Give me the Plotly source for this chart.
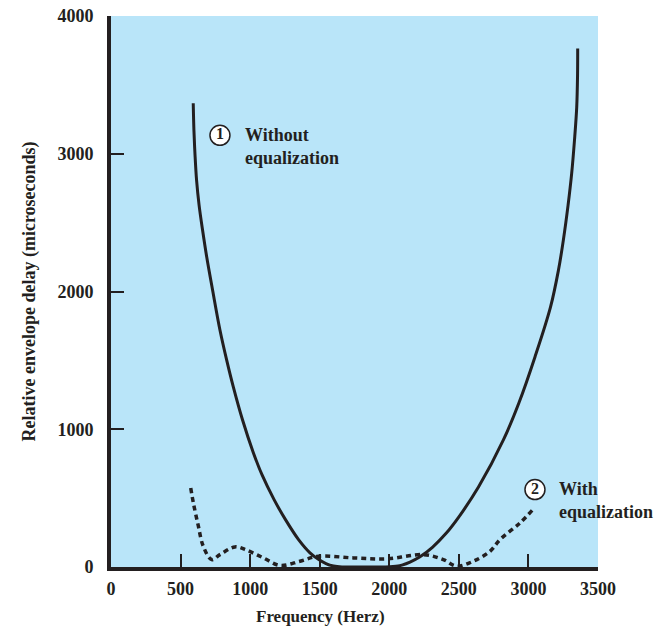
import plotly.graph_objects as go

# Without equalization (solid)
freq_without = [591, 596, 604, 615, 633, 658, 688, 730, 783, 831, 879, 945, 1023, 1085, 1172,
                1254, 1348, 1430, 1493, 1545, 1599, 1660, 1750, 1850, 1976, 2063, 2091, 2149,
                2218, 2312, 2410, 2499, 2641, 2821, 2932, 3047, 3159, 3216, 3251, 3285, 3311,
                3331, 3347, 3353, 3354]
delay_without = [3366, 3170, 2989, 2808, 2627, 2446, 2250, 2011, 1721, 1504, 1308, 1069, 830, 670, 489,
                 344, 199, 103, 54, 25, 7, 0, 0, 0, 0, 7, 14, 36,
                 72, 145, 246, 362, 580, 924, 1192, 1525, 1888, 2156, 2373, 2627, 2859,
                 3098, 3337, 3569, 3764]

# With equalization (dotted)
freq_with = [573, 592, 628, 663, 723, 783, 891, 975, 1095, 1215, 1358, 1490, 1742, 1981,
             2245, 2388, 2484, 2604, 2724, 2796, 2939, 3031]
delay_with = [573, 465, 296, 151, 54, 90, 146, 122, 66, 11, 42, 78, 66, 59,
              90, 54, 6, 42, 114, 199, 320, 416]

x_ticks = [0, 500, 1000, 1500, 2000, 2500, 3000, 3500]
y_ticks = [0, 1000, 2000, 3000, 4000]

INK = "#231F20"
BG = "#B9E5F9"
FONT = "Liberation Serif"

fig = go.Figure()
fig.add_trace(go.Scatter(x=freq_without, y=delay_without, mode="lines",
                         line=dict(color=INK, width=3, shape="spline", smoothing=1.0),
                         hoverinfo="skip", showlegend=False))
fig.add_trace(go.Scatter(x=freq_with, y=delay_with, mode="lines",
                         line=dict(color=INK, width=3.5, shape="spline", smoothing=1.0, dash="5px,4px"),
                         hoverinfo="skip", showlegend=False))

# circled number labels
labels = [("1", 783, 3134), ("2", 3047, 562)]
fig.add_trace(go.Scatter(x=[l[1] for l in labels], y=[l[2] for l in labels], mode="markers+text",
                         text=[f"<b>{l[0]}</b>" for l in labels], textposition="middle center",
                         textfont=dict(family=FONT, size=16, color=INK),
                         marker=dict(symbol="circle", size=20, color="white",
                                     line=dict(width=1.5, color=INK)),
                         cliponaxis=False, hoverinfo="skip", showlegend=False))

fig.add_annotation(x=949, y=3051, xref="x", yref="y", xanchor="left", yanchor="middle", align="left",
                   text="Without<br>equalization", showarrow=False,
                   font=dict(family=FONT, size=18, color=INK, weight="bold"))
fig.add_annotation(x=3205, y=482, xref="x", yref="y", xanchor="left", yanchor="middle", align="left",
                   text="With<br>equalization", showarrow=False,
                   font=dict(family=FONT, size=18, color=INK, weight="bold"))

fig.add_annotation(x=0.431, y=-0.09, xref="paper", yref="paper", yanchor="middle",
                   text="Frequency (Herz)", showarrow=False,
                   font=dict(family=FONT, size=17, color=INK, weight="bold"))

fig.update_layout(
    width=666, height=626,
    margin=dict(l=111, r=68, t=16, b=59),
    paper_bgcolor="white", plot_bgcolor=BG,
    xaxis=dict(range=[0, 3500], tickvals=x_ticks, ticktext=[str(v) for v in x_ticks],
               showgrid=False, zeroline=False, showline=True, linewidth=4, linecolor=INK,
               ticks="inside", ticklen=13, tickwidth=2, tickcolor=INK,
               tickfont=dict(family=FONT, size=18, color=INK, weight="bold"), ticklabelstandoff=2,
               automargin=False, fixedrange=True),
    yaxis=dict(range=[0, 4000], tickvals=y_ticks, ticktext=[str(v) for v in y_ticks],
               showgrid=False, zeroline=False, showline=True, linewidth=4, linecolor=INK,
               ticks="inside", ticklen=13, tickwidth=2, tickcolor=INK,
               tickfont=dict(family=FONT, size=18, color=INK, weight="bold"), ticklabelstandoff=10,
               title=dict(text="Relative envelope delay (microseconds)",
                          font=dict(family=FONT, size=18, color=INK, weight="bold"), standoff=18),
               automargin=False, fixedrange=True),
)

fig.write_html("out.html")
